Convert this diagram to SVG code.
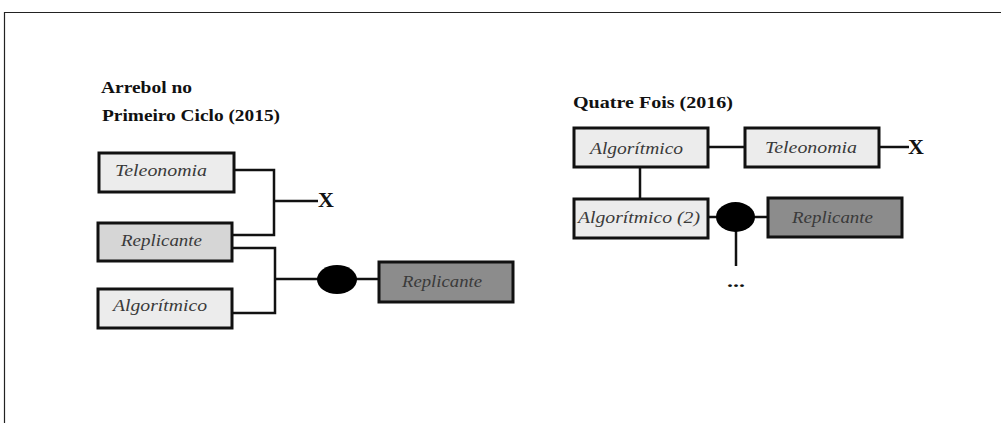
<svg xmlns="http://www.w3.org/2000/svg" width="1001" height="423" viewBox="0 0 1001 423">
<style>
.frame{fill:none;stroke:#222;stroke-width:1.2}
.box{stroke:#111;stroke-width:3}
.light{fill:#ececec}
.mid{fill:#d6d6d6}
.dark{fill:#8c8c8c}
.lbl{font-family:"Liberation Serif",serif;font-style:italic;font-size:16px;fill:#3a3a3a}
.title{font-family:"Liberation Serif",serif;font-weight:bold;font-size:16px;fill:#111}
.x{font-family:"Liberation Serif",serif;font-weight:bold;font-size:22px;fill:#111}
.ln{fill:none;stroke:#111;stroke-width:2.5}
</style>
<rect width="1001" height="423" fill="#fff"/>
<path class="frame" d="M4.5,423 V12.5 H1001"/>
<text class="title" x="101" y="93" textLength="91" lengthAdjust="spacingAndGlyphs">Arrebol no</text>
<text class="title" x="102" y="121" textLength="178" lengthAdjust="spacingAndGlyphs">Primeiro Ciclo (2015)</text>
<text class="title" x="573" y="108" textLength="160" lengthAdjust="spacingAndGlyphs">Quatre Fois (2016)</text>
<g id="connectors">
<path class="ln" d="M234,170 H274 V235 H232"/>
<path class="ln" d="M274,201 H318"/>
<path class="ln" d="M232,248 H275 V313 H232"/>
<path class="ln" d="M275,279 H318"/>
<path class="ln" d="M356,279 H380"/>
<path class="ln" d="M708,147 H745"/>
<path class="ln" d="M880,147 H909"/>
<path class="ln" d="M640,167 V199"/>
<path class="ln" d="M708,217 H717"/>
<path class="ln" d="M754,217 H768"/>
<path class="ln" d="M736,231 V266"/>
</g>
<g id="n-teleonomia-l"><rect class="box light" x="99" y="153" width="135" height="39"/><text class="lbl" x="115" y="176" textLength="92" lengthAdjust="spacingAndGlyphs">Teleonomia</text></g>
<g id="n-replicante-l"><rect class="box mid" x="98" y="223" width="134" height="38"/><text class="lbl" x="121" y="246" textLength="81" lengthAdjust="spacingAndGlyphs">Replicante</text></g>
<g id="n-algoritmico-l"><rect class="box light" x="98" y="289" width="134" height="39"/><text class="lbl" x="113" y="311" textLength="94" lengthAdjust="spacingAndGlyphs">Algorítmico</text></g>
<g id="n-x-l"><text class="x" x="318" y="207">X</text></g>
<g id="n-dot-l"><ellipse cx="337" cy="279.5" rx="20" ry="14.5" fill="#000"/></g>
<g id="n-replicante-dark-l"><rect class="box dark" x="379" y="262" width="134" height="40"/><text class="lbl" x="402" y="287" textLength="80" lengthAdjust="spacingAndGlyphs">Replicante</text></g>
<g id="n-algoritmico-r"><rect class="box light" x="574" y="128" width="134" height="39"/><text class="lbl" x="590" y="154" textLength="93" lengthAdjust="spacingAndGlyphs">Algorítmico</text></g>
<g id="n-teleonomia-r"><rect class="box light" x="745" y="128" width="134" height="39"/><text class="lbl" x="765" y="153" textLength="92" lengthAdjust="spacingAndGlyphs">Teleonomia</text></g>
<g id="n-x-r"><text class="x" x="908" y="154">X</text></g>
<g id="n-algoritmico2-r"><rect class="box light" x="574" y="199" width="134" height="39"/><text class="lbl" x="578" y="223" textLength="122" lengthAdjust="spacingAndGlyphs">Algorítmico (2)</text></g>
<g id="n-dot-r"><ellipse cx="735.5" cy="217" rx="19.5" ry="15" fill="#000"/></g>
<g id="n-replicante-dark-r"><rect class="box dark" x="768" y="198" width="134" height="39"/><text class="lbl" x="792" y="223" textLength="81" lengthAdjust="spacingAndGlyphs">Replicante</text></g>
<g id="n-dots"><text class="title" x="727" y="287" textLength="18" lengthAdjust="spacingAndGlyphs">...</text></g>
</svg>
